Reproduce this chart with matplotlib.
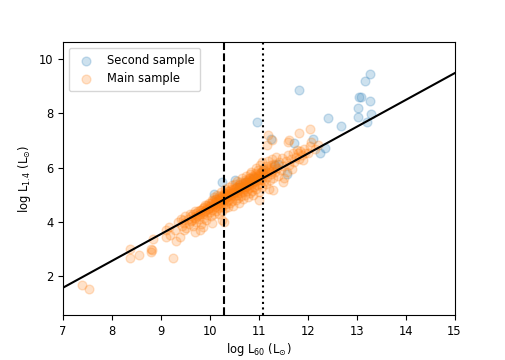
import numpy as np
import matplotlib
matplotlib.use("Agg")
import matplotlib.pyplot as plt

plt.rcParams["font.size"] = 8.3

# second sample (log L60, log L1.4)
second_x = [11.82, 13.28, 13.18, 13.04, 13.08, 13.28, 13.02, 13.03, 13.30, 13.22,
            12.41, 12.67, 10.97, 11.25, 12.10, 11.72, 12.35, 12.26, 11.58, 11.33,
            11.09, 10.24, 10.51, 10.09, 10.71, 11.39, 10.60, 10.90]
second_y = [8.86, 9.47, 9.20, 8.61, 8.61, 8.46, 8.20, 7.87, 7.97, 7.69,
            7.83, 7.53, 7.69, 7.04, 7.06, 6.91, 6.74, 6.52, 5.78, 6.09,
            5.90, 5.47, 5.56, 5.04, 5.47, 6.12, 5.30, 5.60]

# main sample (log L60, log L1.4)
main_pts = [
    (7.39, 1.66), (7.52, 1.52), (8.36, 2.99), (8.36, 2.66), (8.55, 2.76), (8.80, 2.99),
    (8.80, 2.89), (8.84, 3.38), (9.24, 2.66), (8.81, 2.95), (9.10, 3.69), (9.16, 3.81),
    (9.11, 3.44), (9.18, 3.50), (9.31, 3.28), (9.38, 3.44), (9.35, 4.00), (9.41, 4.12),
    (9.29, 3.69), (9.47, 3.69), (9.69, 3.63), (9.80, 3.69),
    (9.42, 3.85), (9.45, 4.05), (9.48, 3.95), (9.50, 4.20), (9.52, 3.78), (9.55, 4.10),
    (9.58, 3.92), (9.60, 4.30), (9.62, 4.02), (9.65, 3.85),
    (9.68, 4.18), (9.70, 4.40), (9.72, 3.98), (9.75, 4.25), (9.78, 4.12), (9.80, 4.45),
    (9.82, 3.90), (9.85, 4.30), (9.87, 4.55), (9.88, 4.15), (9.90, 4.38),
    (9.92, 4.05), (9.94, 4.62), (9.95, 4.25), (9.97, 4.48), (9.98, 4.70), (10.00, 4.35),
    (10.01, 4.58), (10.03, 4.20), (10.04, 4.80), (10.05, 4.45), (10.06, 4.65), (10.08, 4.30),
    (10.09, 4.90), (10.10, 4.55),
    (10.11, 4.72), (10.12, 4.40), (10.13, 4.85), (10.14, 4.62), (10.15, 5.00), (10.16, 4.50),
    (10.17, 4.78), (10.18, 4.30), (10.19, 4.95), (10.20, 4.68), (10.21, 4.85), (10.22, 4.55),
    (10.23, 5.10), (10.24, 4.75), (10.25, 4.40), (10.26, 4.92), (10.27, 4.62), (10.28, 5.05),
    (10.29, 4.80), (10.30, 4.50),
    (10.31, 5.20), (10.32, 4.88), (10.33, 4.65), (10.34, 5.00), (10.35, 4.75), (10.36, 5.15),
    (10.37, 4.55), (10.38, 4.95), (10.39, 5.28), (10.40, 4.82), (10.41, 5.05), (10.42, 4.68),
    (10.43, 5.20), (10.44, 4.90), (10.45, 5.35), (10.46, 4.75), (10.47, 5.08), (10.48, 4.60),
    (10.49, 5.22), (10.50, 4.95),
    (10.51, 5.40), (10.52, 5.10), (10.53, 4.80), (10.54, 5.28), (10.55, 5.00), (10.56, 5.50),
    (10.57, 4.88), (10.58, 5.18), (10.59, 5.35), (10.60, 4.70), (10.61, 5.05), (10.62, 5.45),
    (10.63, 5.20), (10.64, 4.95), (10.65, 5.60), (10.66, 5.30), (10.67, 5.10), (10.68, 4.85),
    (10.69, 5.40), (10.70, 5.20),
    (10.71, 5.55), (10.72, 5.00), (10.73, 5.30), (10.74, 5.70), (10.75, 5.15), (10.76, 5.45),
    (10.77, 4.90), (10.78, 5.35), (10.79, 5.60), (10.80, 5.25), (10.81, 5.75), (10.82, 5.05),
    (10.83, 5.50), (10.84, 5.30), (10.85, 5.85), (10.86, 5.15), (10.87, 5.40), (10.88, 5.65),
    (10.89, 5.00), (10.90, 5.50),
    (10.91, 5.30), (10.92, 5.80), (10.93, 5.45), (10.94, 6.00), (10.95, 5.20), (10.96, 5.60),
    (10.97, 5.35), (10.98, 5.90), (10.99, 5.55), (11.00, 5.10), (11.01, 5.70), (11.02, 6.10),
    (11.03, 5.40), (11.04, 5.85), (11.05, 5.55), (11.06, 6.20), (11.07, 5.30), (11.08, 5.75),
    (11.09, 5.95), (11.10, 5.50),
    (11.12, 5.80), (11.14, 6.05), (11.15, 5.40), (11.16, 5.65), (11.18, 6.25), (11.20, 5.90),
    (11.22, 5.55), (11.24, 6.10), (11.25, 5.75), (11.27, 6.30), (11.29, 5.95), (11.30, 5.60),
    (11.32, 6.15), (11.34, 5.85), (11.36, 6.40), (11.38, 6.00), (11.40, 5.70),
    (11.42, 6.20), (11.45, 5.90), (11.48, 6.35), (11.50, 6.05), (11.52, 5.60), (11.55, 6.25),
    (11.58, 5.85), (11.60, 6.45), (11.62, 6.10), (11.65, 6.30), (11.68, 5.95), (11.70, 6.55),
    (11.72, 6.20), (11.75, 6.40), (11.78, 6.65), (11.80, 6.52), (11.82, 6.30), (11.85, 6.60),
    (11.88, 6.45), (11.90, 6.27), (11.92, 6.70), (11.95, 6.55), (12.00, 6.53), (12.04, 6.80),
    (12.07, 6.95), (12.14, 6.70), (12.20, 6.85),
    (11.19, 7.20), (11.26, 7.01), (11.16, 6.83), (12.04, 7.44), (11.82, 7.26), (11.59, 6.95),
    (11.62, 7.00),
    (10.24, 4.06), (10.29, 4.00), (9.85, 3.80), (10.05, 3.95), (11.00, 4.80), (11.20, 5.20),
    (11.29, 5.17), (11.49, 5.47),
    # dense core close to the relation
    (9.61, 4.20), (9.64, 4.08), (9.66, 4.28), (9.69, 4.15), (9.71, 4.32), (9.74, 4.20),
    (9.76, 4.40), (9.79, 4.28), (9.81, 4.45), (9.83, 4.35), (9.86, 4.50), (9.89, 4.40),
    (9.91, 4.62), (9.93, 4.48), (9.96, 4.58), (9.99, 4.52), (10.02, 4.70), (10.04, 4.55),
    (10.07, 4.78), (10.09, 4.62), (10.11, 4.85), (10.13, 4.70), (10.15, 4.82), (10.17, 4.66),
    (10.19, 4.88), (10.21, 4.74), (10.23, 4.92), (10.25, 4.80), (10.27, 4.98), (10.29, 4.86),
    (10.31, 5.02), (10.33, 4.90), (10.35, 5.08), (10.37, 4.95), (10.39, 5.12), (10.41, 4.98),
    (10.43, 5.05), (10.45, 5.18), (10.47, 4.98), (10.49, 5.10), (10.51, 5.22), (10.53, 5.08),
    (10.55, 5.30), (10.57, 5.15), (10.59, 5.25), (10.61, 5.38), (10.63, 5.30), (10.65, 5.18),
    (10.67, 5.42), (10.69, 5.28), (10.71, 5.36), (10.73, 5.48), (10.75, 5.32), (10.77, 5.55),
    (10.79, 5.40), (10.81, 5.48), (10.83, 5.62), (10.85, 5.45), (10.87, 5.58), (10.89, 5.70),
    (10.91, 5.52), (10.93, 5.65), (10.95, 5.78), (10.97, 5.60), (10.99, 5.72), (11.01, 5.55),
    (11.03, 5.80), (11.05, 5.68), (11.07, 5.85), (11.10, 5.72), (11.13, 5.90), (11.17, 5.82),
    (11.21, 6.00), (11.26, 5.88), (11.31, 6.05),
]
main_x = [p[0] for p in main_pts]
main_y = [p[1] for p in main_pts]

# fitted relation and cut lines
slope, intercept = 0.989, -5.353
cut_dashed = 10.28
cut_dotted = 11.08

fig = plt.figure(figsize=(5.05, 3.6), dpi=100)
ax = fig.add_axes([0.125, 0.125, 0.775, 0.758])

ax.scatter(second_x, second_y, s=40, alpha=0.22, label="Second sample")
ax.scatter(main_x, main_y, s=40, alpha=0.22, label="Main sample")

xx = np.array([7, 15])
ax.plot(xx, slope * xx + intercept, color="k", lw=1.5)
ax.axvline(cut_dashed, color="k", ls="--", lw=1.5)
ax.axvline(cut_dotted, color="k", ls=":", lw=1.5)

ax.set_xlim(7, 15)
ax.set_ylim(0.56, 10.63)
ax.set_xlabel(r"log L$_{60}$ (L$_{\odot}$)", labelpad=2)
ax.set_ylabel(r"log L$_{1.4}$ (L$_{\odot}$)")
ax.legend(loc="upper left", borderpad=0.5, labelspacing=0.5)

fig.savefig("out.png", dpi=100)
